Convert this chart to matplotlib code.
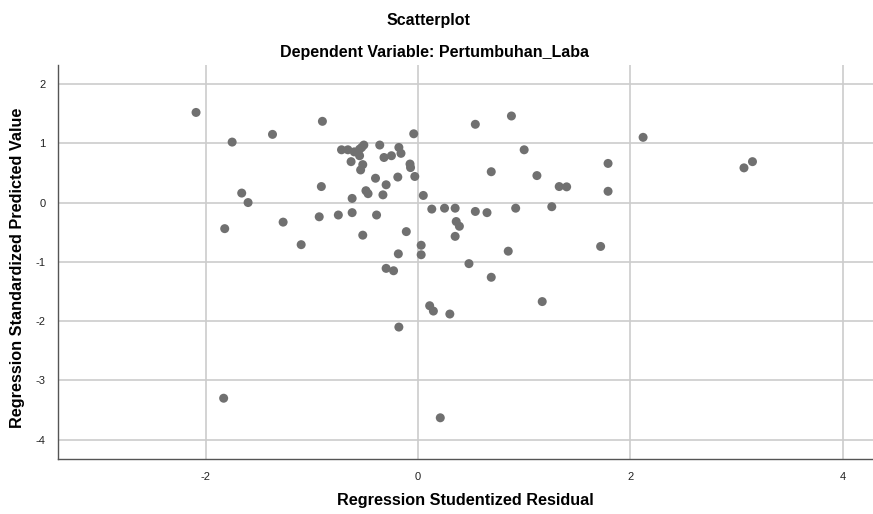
import matplotlib.pyplot as plt

# Studentized residual (x) vs standardized predicted value (y)
resid = [-2.09, -1.75, -1.37, -1.66, -1.60, -1.82, -1.27, -1.10, -1.83,
         -0.90, -0.72, -0.66, -0.60, -0.55, -0.51, -0.53, -0.55, -0.63, -0.52, -0.54,
         -0.36, -0.32, -0.25, -0.18, -0.16, -0.04, -0.075, -0.07, -0.03,
         -0.40, -0.19, -0.30, -0.49, -0.47, -0.33, -0.62, -0.91, 0.05,
         -0.93, -0.75, -0.62, -0.39, -0.52, -0.11, -0.185, 0.03, 0.03,
         0.13, 0.25, 0.35, 0.36, 0.39, 0.35,
         0.54, 0.88, 1.00, 0.69, 1.12, 1.33, 1.40,
         0.54, 0.65, 0.92, 1.26, 0.85,
         2.12, 1.79, 1.79, 1.72, 3.07, 3.15,
         -0.30, -0.23, 0.48, 0.69, 1.17, 0.11, 0.145, 0.30, -0.18, 0.21]
pred = [1.52, 1.02, 1.15, 0.16, 0.00, -0.44, -0.33, -0.71, -3.30,
        1.37, 0.89, 0.89, 0.855, 0.90, 0.97, 0.93, 0.79, 0.69, 0.64, 0.55,
        0.97, 0.76, 0.79, 0.93, 0.83, 1.16, 0.65, 0.59, 0.44,
        0.41, 0.43, 0.30, 0.20, 0.15, 0.13, 0.07, 0.27, 0.12,
        -0.24, -0.21, -0.17, -0.21, -0.55, -0.49, -0.865, -0.72, -0.88,
        -0.11, -0.095, -0.095, -0.32, -0.40, -0.57,
        1.32, 1.46, 0.89, 0.52, 0.455, 0.27, 0.265,
        -0.15, -0.17, -0.095, -0.07, -0.82,
        1.10, 0.66, 0.19, -0.74, 0.585, 0.69,
        -1.11, -1.15, -1.03, -1.26, -1.67, -1.74, -1.83, -1.88, -2.10, -3.63]

xticks = [-2, 0, 2, 4]
yticks = [2, 1, 0, -1, -2, -3, -4]

plt.rcParams['font.family'] = ['Liberation Sans', 'DejaVu Sans']
plt.rcParams['axes.unicode_minus'] = False

fig = plt.figure(figsize=(8.73, 5.14), dpi=100)
ax = fig.add_axes([58 / 873, 1 - 459.3 / 514, (873 - 58) / 873, (459.3 - 65) / 514])

ax.scatter(resid, pred, s=42, color='#707070', edgecolors='none', zorder=3)

ax.set_xlim(-3.39, 4.285)
ax.set_ylim(-4.33, 2.32)
ax.set_xticks(xticks)
ax.set_yticks(yticks)
ax.grid(True, color='#cccccc', linewidth=1.2, zorder=0)
ax.set_axisbelow(True)
ax.tick_params(length=0, labelsize=8, labelcolor='#222222', pad=9)

for s in ['top', 'right']:
    ax.spines[s].set_visible(False)
for s in ['left', 'bottom']:
    ax.spines[s].set_color('#555555')
    ax.spines[s].set_linewidth(1.0)

fig.text(465.5 / 873, 1 - 501 / 514, 'Regression Studentized Residual',
         ha='center', va='center', fontsize=11.7, fontweight='bold')
fig.text(18 / 873, 1 - 268 / 514, 'Regression Standardized Predicted Value',
         ha='center', va='center', rotation=90, fontsize=11.7, fontweight='bold')

fig.text(428 / 873, 1 - 20 / 514, 'Scatterplot', ha='center', va='center',
         fontsize=11.5, fontweight='bold')
fig.text(435 / 873, 1 - 53 / 514, 'Dependent Variable: Pertumbuhan_Laba', ha='center', va='center',
         fontsize=11.5, fontweight='bold')

fig.savefig('out.png', dpi=100)
